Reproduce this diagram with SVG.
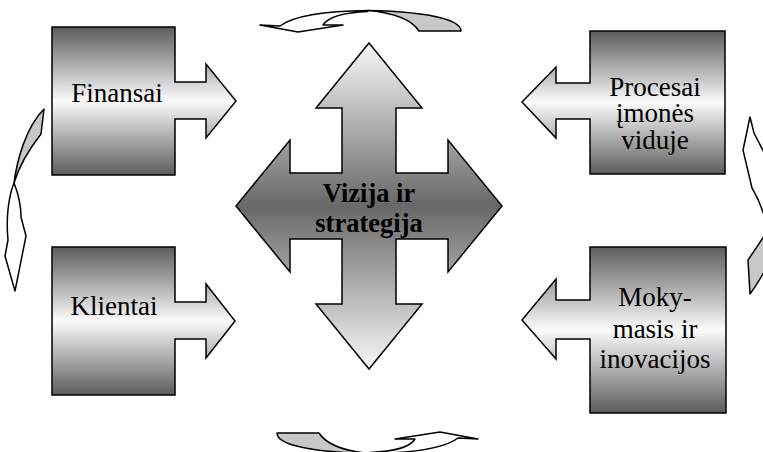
<svg xmlns="http://www.w3.org/2000/svg" xmlns:xlink="http://www.w3.org/1999/xlink" width="763" height="452" viewBox="0 0 763 452">
  <defs>
    <!-- boxes: dark at top and bottom, white through the middle -->
    <linearGradient id="boxFill" x1="0" y1="0" x2="0" y2="1">
      <stop offset="0" stop-color="#5c5c5c"/>
      <stop offset="0.5" stop-color="#fbfbfb"/>
      <stop offset="1" stop-color="#5c5c5c"/>
    </linearGradient>
    <!-- central cross: light at the tips, dark across the middle -->
    <linearGradient id="crossFill" x1="0" y1="0" x2="0" y2="1">
      <stop offset="0" stop-color="#f8f8f8"/>
      <stop offset="0.5" stop-color="#686868"/>
      <stop offset="1" stop-color="#f8f8f8"/>
    </linearGradient>
    <!-- horizontal curved arrow (back band + front band with head) -->
    <g id="curveH">
      <path class="back" d="M419,31 L461,31 C461,22 440,12 368,10.5 C395,13 412,20 419,31 Z"/>
      <path class="front" d="M368,10.5 C322,11 292,17 280,26 L260,25 L298,32 L343,25 L323,25 C328,17 345,12.5 368,11.5 Z"/>
    </g>
  </defs>
  <style>
    .shape { stroke: #000; stroke-width: 1.5; stroke-linejoin: miter; }
    .box { fill: url(#boxFill); }
    .cross { fill: url(#crossFill); }
    .back { fill: #c8c8c8; stroke: #000; stroke-width: 1.5; stroke-linejoin: round; }
    .front { fill: #fff; stroke: #000; stroke-width: 1.5; stroke-linejoin: round; }
    .lbl { font-family: "Liberation Serif", "Times New Roman", serif; font-size: 27px; text-anchor: middle; fill: #000; }
    .title { font-weight: bold; font-size: 26.5px; }
  </style>

  <rect width="763" height="452" fill="#fff"/>

  <!-- cycle arrows around the diagram -->
  <g id="connectors">
    <use xlink:href="#curveH"/>
    <use xlink:href="#curveH" transform="rotate(180 369 232)"/>
    <!-- left arc, pointing down -->
    <path class="back" d="M44,109 L41,134 C30,148 20,163 14,183 C17,160 26,127 44,109 Z"/>
    <path class="front" d="M14,183 C8,198 6,220 8,240 L5,256 L15,291 L26,236 L21,217 C21,205 18,193 14,183 Z"/>
    <!-- right arc, pointing up -->
    <path class="front" d="M750,117 L754,133 L772,168 C778,190 779,210 775,228 L768,230 C764,212 758,198 752,188 L743,150 Z"/>
    <path class="back" d="M750,294 L748,260 C755,250 764,236 772,224 L782,236 C772,258 762,278 750,294 Z"/>
  </g>

  <g id="finansai">
    <path class="shape box" d="M52,27 H175 V82 H206 V64 L236,101 L206,138 V119 H175 V175 H52 Z"/>
    <text class="lbl" x="117" y="102">Finansai</text>
  </g>

  <g id="klientai">
    <path class="shape box" d="M52,247 H175 V302 H206 V284 L235,321 L206,358 V339 H175 V395 H52 Z"/>
    <text class="lbl" x="114" y="315">Klientai</text>
  </g>

  <g id="procesai">
    <path class="shape box" d="M725,31 H590 V83 H556 V67 L522,102 L556,138 V119 H590 V174 H725 Z"/>
    <text class="lbl" x="655" y="96">Procesai</text>
    <text class="lbl" x="655" y="122">įmonės</text>
    <text class="lbl" x="655" y="149">viduje</text>
  </g>

  <g id="mokymasis">
    <path class="shape box" d="M726,247 H590 V300 H556 V279 L522,320 L556,359 V339 H590 V413 H726 Z"/>
    <text class="lbl" x="655" y="306">Moky-</text>
    <text class="lbl" x="655" y="338">masis ir</text>
    <text class="lbl" x="655" y="368">inovacijos</text>
  </g>

  <g id="vizija">
    <path class="shape cross" d="M369,43 L422,108 L396,108 L396,173 L448,173 L448,140 L502,206 L448,272 L448,239 L396,239 L396,304 L422,304 L369,369 L316,304 L342,304 L342,239 L290,239 L290,272 L236,206 L290,140 L290,173 L342,173 L342,108 L316,108 Z"/>
    <text class="lbl title" x="369" y="202">Vizija ir</text>
    <text class="lbl title" x="369" y="232">strategija</text>
  </g>
</svg>
